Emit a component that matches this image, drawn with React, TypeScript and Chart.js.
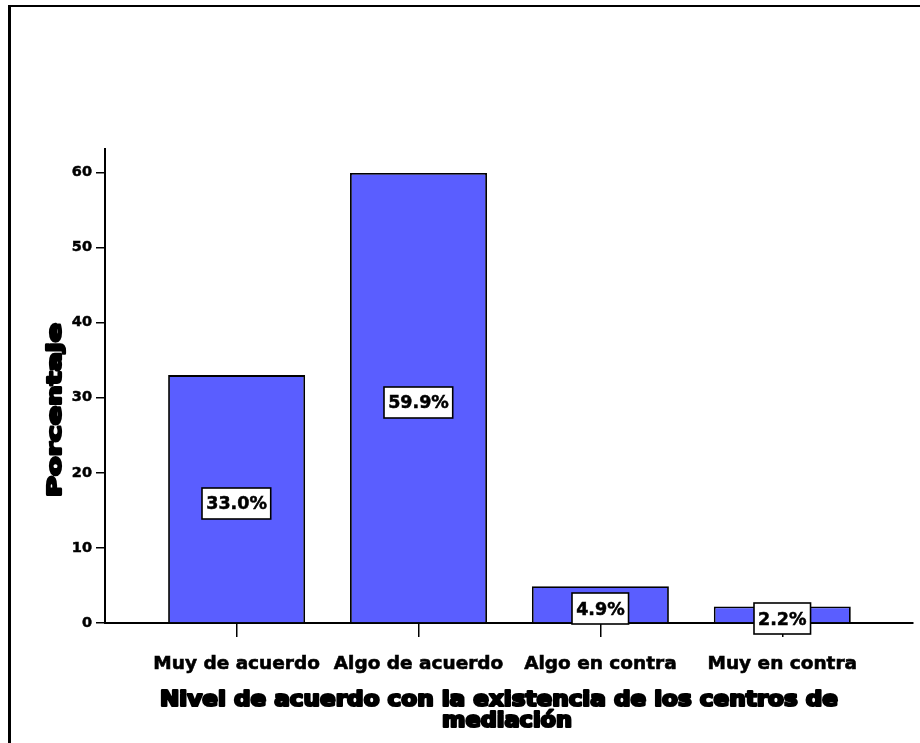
import React, { useEffect, useRef } from "react";
import { Chart, registerables } from "chart.js";

Chart.register(...registerables);

// ---- data ----
const categories = ["Muy de acuerdo", "Algo de acuerdo", "Algo en contra", "Muy en contra"];
const percentages = [33.0, 59.9, 4.9, 2.2];
const valueLabels = ["33.0%", "59.9%", "4.9%", "2.2%"];
const yTickValues = [0, 10, 20, 30, 40, 50, 60];
const xTitleLines = ["Nivel de acuerdo con la existencia de los centros de", "mediación"];
const yTitle = "Porcentaje";

// ---- style ----
const W = 920;
const H = 743;
const FONT = "'DejaVu Sans', 'Liberation Sans', sans-serif";
const BAR_COLOR = "#5A5EFF";

function drawHeavyText(
  ctx: CanvasRenderingContext2D,
  text: string,
  x: number,
  y: number,
  size: number,
  targetWidth: number,
  rotate: number
) {
  ctx.save();
  ctx.font = `bold ${size}px ${FONT}`;
  const w = ctx.measureText(text).width;
  const sx = targetWidth / w;
  ctx.translate(x, y);
  if (rotate) ctx.rotate(rotate);
  ctx.scale(sx, 1);
  ctx.textAlign = "center";
  ctx.textBaseline = "alphabetic";
  ctx.fillStyle = "#000";
  ctx.strokeStyle = "#000";
  ctx.lineWidth = 2.2;
  ctx.lineJoin = "round";
  ctx.fillText(text, 0, 0);
  ctx.strokeText(text, 0, 0);
  ctx.restore();
}

const decorPlugin = {
  id: "decor",
  beforeDraw(chart: any) {
    const ctx = chart.ctx as CanvasRenderingContext2D;
    ctx.save();
    ctx.fillStyle = "#fff";
    ctx.fillRect(0, 0, chart.width, chart.height);
    ctx.restore();
  },
  afterDatasetsDraw(chart: any) {
    const ctx = chart.ctx as CanvasRenderingContext2D;
    const meta = chart.getDatasetMeta(0);
    const ys = chart.scales.y;
    ctx.save();
    ctx.font = `bold 17.5px ${FONT}`;
    meta.data.forEach((bar: any, i: number) => {
      const v = percentages[i];
      const cy = (ys.getPixelForValue(v) + ys.getPixelForValue(0)) / 2 + 4;
      const tw = ctx.measureText(valueLabels[i]).width;
      const bw = tw + 8;
      const bh = 31;
      const x0 = Math.round(bar.x - bw / 2);
      const y0 = Math.round(cy - bh / 2);
      ctx.fillStyle = "#fff";
      ctx.fillRect(x0, y0, bw, bh);
      ctx.strokeStyle = "#000";
      ctx.lineWidth = 1.6;
      ctx.strokeRect(x0, y0, bw, bh);
      ctx.fillStyle = "#000";
      ctx.strokeStyle = "#000";
      ctx.lineWidth = 0.5;
      ctx.textAlign = "center";
      ctx.textBaseline = "middle";
      ctx.fillText(valueLabels[i], bar.x, cy + 1.5);
      ctx.strokeText(valueLabels[i], bar.x, cy + 1.5);
    });
    ctx.restore();
  },
  afterDraw(chart: any) {
    const ctx = chart.ctx as CanvasRenderingContext2D;
    // axis titles
    drawHeavyText(ctx, xTitleLines[0], 499, 706, 20.5, 678, 0);
    drawHeavyText(ctx, xTitleLines[1], 507, 727, 20.5, 130, 0);
    drawHeavyText(ctx, yTitle, 61, 410, 20, 174, -Math.PI / 2);
    // outer frame
    ctx.save();
    ctx.fillStyle = "#000";
    ctx.fillRect(8, 5, W - 8, 2);
    ctx.fillRect(8, 5, 3, H - 5);
    ctx.restore();
  },
};

export default function App() {
  const canvasRef = useRef<HTMLCanvasElement | null>(null);

  useEffect(() => {
    const canvas = canvasRef.current;
    if (!canvas) return;
    const chart = new Chart(canvas, {
      type: "bar",
      data: {
        datasets: [
          {
            data: percentages.map((v, i) => ({ x: i, y: v })),
            backgroundColor: BAR_COLOR,
            borderColor: "#000",
            borderWidth: 1.8,
            barPercentage: 0.753,
            categoryPercentage: 1,
          },
        ],
      },
      options: {
        responsive: false,
        animation: false,
        devicePixelRatio: 1,
        layout: { padding: { top: 149, right: 7, left: 0, bottom: 0 } },
        plugins: {
          legend: { display: false },
          tooltip: { enabled: false },
          title: { display: false },
        },
        scales: {
          x: {
            type: "linear",
            min: -0.7235,
            max: 3.7185,
            offset: false,
            z: 1,
            afterBuildTicks: (s: any) => {
              s.ticks = categories.map((_, i) => ({ value: i }));
            },
            afterFit: (s: any) => {
              s.height = 120;
            },
            grid: {
              display: true,
              offset: false,
              drawOnChartArea: false,
              drawTicks: true,
              tickLength: 14,
              color: "#000",
              lineWidth: 1.5,
            },
            border: { display: true, color: "#000", width: 2 },
            ticks: {
              autoSkip: false,
              maxRotation: 0,
              minRotation: 0,
              padding: 16,
              color: "#000",
              textStrokeColor: "#000",
              textStrokeWidth: 0.6,
              font: { family: FONT, size: 18.5, weight: "bold" },
              callback: (v: any) => categories[v as number] ?? "",
            },
          },
          y: {
            min: 0,
            max: 63.1,
            z: 1,
            afterBuildTicks: (s: any) => {
              s.ticks = yTickValues.map((v) => ({ value: v }));
            },
            afterFit: (s: any) => {
              s.width = 105;
            },
            grid: {
              display: true,
              drawOnChartArea: false,
              drawTicks: true,
              tickLength: 9,
              color: "#000",
              lineWidth: 1.5,
            },
            border: { display: true, color: "#000", width: 2 },
            ticks: {
              padding: 4,
              color: "#000",
              textStrokeColor: "#000",
              textStrokeWidth: 0.5,
              font: { family: FONT, size: 14.5, weight: "bold" },
              callback: (v: any) => String(v),
            },
          },
        },
      },
      plugins: [decorPlugin],
    } as any);
    return () => chart.destroy();
  }, []);

  return (
    <div style={{ position: "fixed", left: 0, top: 0, width: W, height: H, background: "#fff" }}>
      <canvas ref={canvasRef} width={W} height={H} style={{ width: W, height: H, display: "block" }} />
    </div>
  );
}
